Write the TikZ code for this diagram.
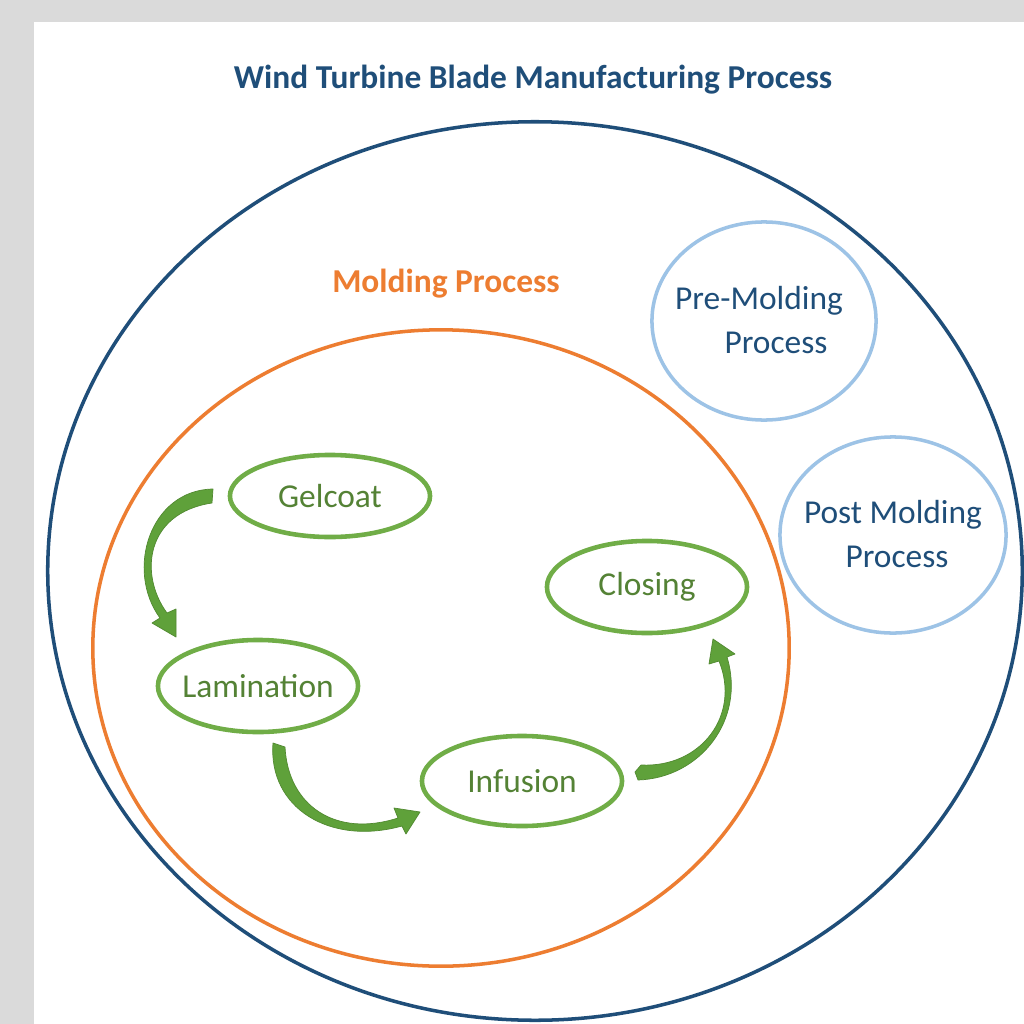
\documentclass[tikz,border=0pt]{standalone}
\usepackage{fontspec}
\setmainfont{Carlito}
\usetikzlibrary{shapes.geometric}
\definecolor{navy}{HTML}{1F4E79}
\definecolor{moldorange}{HTML}{ED7D31}
\definecolor{paleblue}{HTML}{9DC3E6}
\definecolor{stepgreen}{HTML}{70AD47}
\definecolor{steptext}{HTML}{548235}
\definecolor{arrowgreen}{HTML}{5FA13A}
\definecolor{pagegray}{HTML}{DADADA}
\begin{document}
\begin{tikzpicture}[x=0.01cm,y=-0.01cm,
  txt/.style={font=\fontsize{9.5}{12}\selectfont},
  boldtxt/.style={font=\fontsize{9.5}{12}\selectfont\bfseries},
  ring/.style={ellipse,inner sep=0pt},
  stepbox/.style={ring,inner xsep=-0.12cm,draw=stepgreen,line width=1.3pt,minimum width=2cm,txt,text=steptext},
  phasebox/.style={ring,draw=paleblue,line width=1pt},
  bigarrow/.style={fill=arrowgreen,draw=arrowgreen!85!black,line width=0.2pt,line join=round}]
\useasboundingbox (0,0) rectangle (1024,1024);
% page and sheet
\fill[pagegray] (0,0) rectangle (1024,1024);
\fill[white] (34,22) rectangle (1024,1024);

% overall process
\node[ring,draw=navy,line width=1pt,minimum width=9.74cm,minimum height=8.98cm] (outer) at (535,571) {};
\node[boldtxt,text=navy] (title) at (533,80) {Wind Turbine Blade Manufacturing Process};

% molding stage
\node[ring,draw=moldorange,line width=1pt,minimum width=6.96cm,minimum height=6.36cm] (mold) at (441,648) {};
\node[boldtxt,text=moldorange] (moldlabel) at (446,284) {Molding Process};

% pre and post molding
\node[phasebox,minimum width=2.24cm,minimum height=1.98cm] (pre) at (764,321) {};
\node[txt,text=navy] (pre1) at (759,301) {Pre-Molding};
\node[txt,text=navy] (pre2) at (776,343) {Process};
\node[phasebox,minimum width=2.26cm,minimum height=1.96cm] (post) at (893,535) {};
\node[txt,text=navy] (post1) at (893,515) {Post Molding};
\node[txt,text=navy] (post2) at (897,557) {Process};

% molding steps
\node[stepbox,minimum height=0.82cm] (gel) at (330,496) {Gelcoat};
\node[stepbox,minimum height=0.92cm] (lam) at (258,686) {Lamination};
\node[stepbox,minimum height=0.90cm] (inf) at (522,781) {Infusion};
\node[stepbox,minimum height=0.92cm] (clo) at (647,587) {Closing};

% curved block arrows between the steps
\draw[bigarrow] (213,489) .. controls (150,490) and (125,570) .. (160,618)
  -- (152,623) -- (176,637) -- (176,609) -- (167,613)
  .. controls (139,575) and (145,513) .. (212,503) -- cycle;
\draw[bigarrow] (273,743) .. controls (268,808) and (330,846) .. (402,826)
  -- (406,834) -- (420,812) -- (394,808) -- (398,818)
  .. controls (336,838) and (288,806) .. (285,747) -- cycle;
\draw[bigarrow] (638,780) .. controls (700,778) and (746,720) .. (727,657)
  -- (735,654) -- (713,639) -- (709,664) -- (719,661)
  .. controls (741,715) and (701,768) .. (641,765) -- (635,772) -- cycle;
\end{tikzpicture}
\end{document}
